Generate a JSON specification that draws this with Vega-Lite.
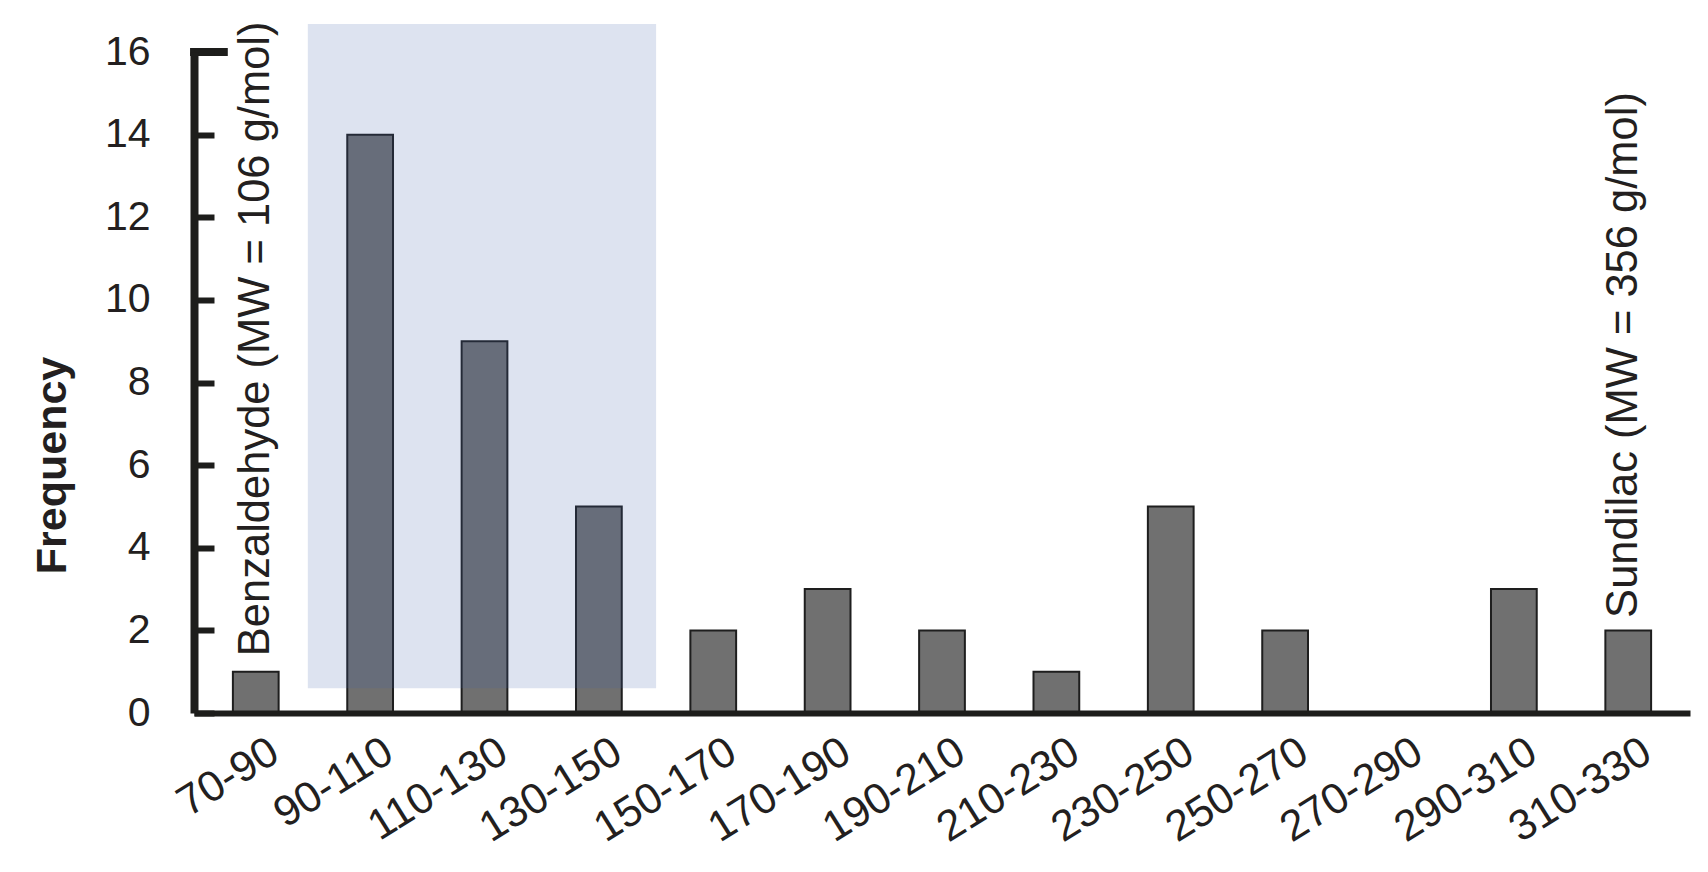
{
  "$schema": "https://vega.github.io/schema/vega-lite/v6.json",
  "width": 1496,
  "height": 661,
  "autosize": {"type": "none"},
  "padding": {"left": 194, "top": 52, "right": 18, "bottom": 159},
  "background": "white",
  "config": {"view": {"stroke": null}, "font": "Liberation Sans"},
  "datasets": {
    "bins": [
      {"bin": "70-90", "count": 1, "label": "Benzaldehyde (MW = 106 g/mol)"},
      {"bin": "90-110", "count": 14, "label": null},
      {"bin": "110-130", "count": 9, "label": null},
      {"bin": "130-150", "count": 5, "label": null},
      {"bin": "150-170", "count": 2, "label": null},
      {"bin": "170-190", "count": 3, "label": null},
      {"bin": "190-210", "count": 2, "label": null},
      {"bin": "210-230", "count": 1, "label": null},
      {"bin": "230-250", "count": 5, "label": null},
      {"bin": "250-270", "count": 2, "label": null},
      {"bin": "270-290", "count": 0, "label": null},
      {"bin": "290-310", "count": 3, "label": null},
      {"bin": "310-330", "count": 2, "label": "Sundilac (MW = 356 g/mol)"}
    ],
    "region": [
      {"region": "90-150 g/mol", "mwStart": 89.1, "mwEnd": 150, "low": 0.6, "high": 16.68}
    ]
  },
  "layer": [
    {
      "data": {"name": "bins"},
      "layer": [
        {
          "mark": {"type": "bar", "fill": "#707070", "stroke": "#1e1e1e", "strokeWidth": 2},
          "encoding": {
            "x": {
              "field": "bin",
              "type": "ordinal",
              "sort": null,
              "scale": {
                "domain": ["70-90", "90-110", "110-130", "130-150", "150-170", "170-190", "190-210", "210-230", "230-250", "250-270", "270-290", "290-310", "310-330"],
                "paddingInner": 0.6,
                "paddingOuter": 0.34
              },
              "axis": {
                "title": null,
                "labelAngle": -32,
                "labelAlign": "right",
                "labelBaseline": "top",
                "labelFontSize": 43,
                "labelColor": "#231f20",
                "labelPadding": 17,
                "labelOverlap": false,
                "labelOffset": 8,
                "ticks": false,
                "tickSize": 0,
                "domainWidth": 6,
                "domainColor": "#1d1d1b",
                "grid": false,
                "zindex": 1
              }
            },
            "y": {
              "field": "count",
              "type": "quantitative",
              "scale": {"domain": [0, 16], "nice": false},
              "axis": {
                "values": [0, 2, 4, 6, 8, 10, 12, 14, 16],
                "title": "Frequency",
                "titleFontSize": 43,
                "titleFontWeight": "bold",
                "titleColor": "#231f20",
                "titleAngle": 270,
                "titleX": -129,
                "titleY": 413,
                "titleAlign": "center",
                "titleBaseline": "alphabetic",
                "labelFontSize": 41,
                "labelColor": "#231f20",
                "labelPadding": 64,
                "tickSize": -20,
                "tickWidth": 6,
                "tickColor": "#1d1d1b",
                "domainWidth": 8,
                "domainColor": "#1d1d1b",
                "grid": false,
                "zindex": 1
              }
            }
          }
        },
        {
          "transform": [{"filter": "datum.bin == '70-90'"}],
          "mark": {"type": "text", "angle": 270, "align": "left", "baseline": "middle", "dx": 15.5, "dy": 0, "fontSize": 43.5, "color": "#231f20"},
          "encoding": {
            "x": {"field": "bin", "type": "ordinal", "sort": null},
            "y": {"field": "count", "type": "quantitative"},
            "text": {"field": "label"}
          }
        },
        {
          "transform": [{"filter": "datum.bin == '310-330'"}],
          "mark": {"type": "text", "angle": 270, "align": "left", "baseline": "middle", "dx": 12.5, "dy": -4, "fontSize": 43.5, "color": "#231f20"},
          "encoding": {
            "x": {"field": "bin", "type": "ordinal", "sort": null},
            "y": {"field": "count", "type": "quantitative"},
            "text": {"field": "label"}
          }
        }
      ]
    },
    {
      "layer": [
        {
          "data": {"name": "region"},
          "mark": {"type": "rect", "color": "#4464ac", "opacity": 0.18},
          "encoding": {
            "x": {"field": "mwStart", "type": "quantitative", "scale": {"domain": [69.19, 330.81], "nice": false, "zero": false}, "axis": null},
            "x2": {"field": "mwEnd"},
            "y": {"field": "low", "type": "quantitative"},
            "y2": {"field": "high"}
          }
        },
        {
          "data": {"values": [{}]},
          "mark": {"type": "rule", "color": "#1d1d1b", "strokeWidth": 8},
          "encoding": {
            "x": {"datum": 68.5, "type": "quantitative"},
            "x2": {"datum": 75.1},
            "y": {"datum": 16, "type": "quantitative"}
          }
        }
      ]
    }
  ],
  "resolve": {"scale": {"x": "independent"}}
}
